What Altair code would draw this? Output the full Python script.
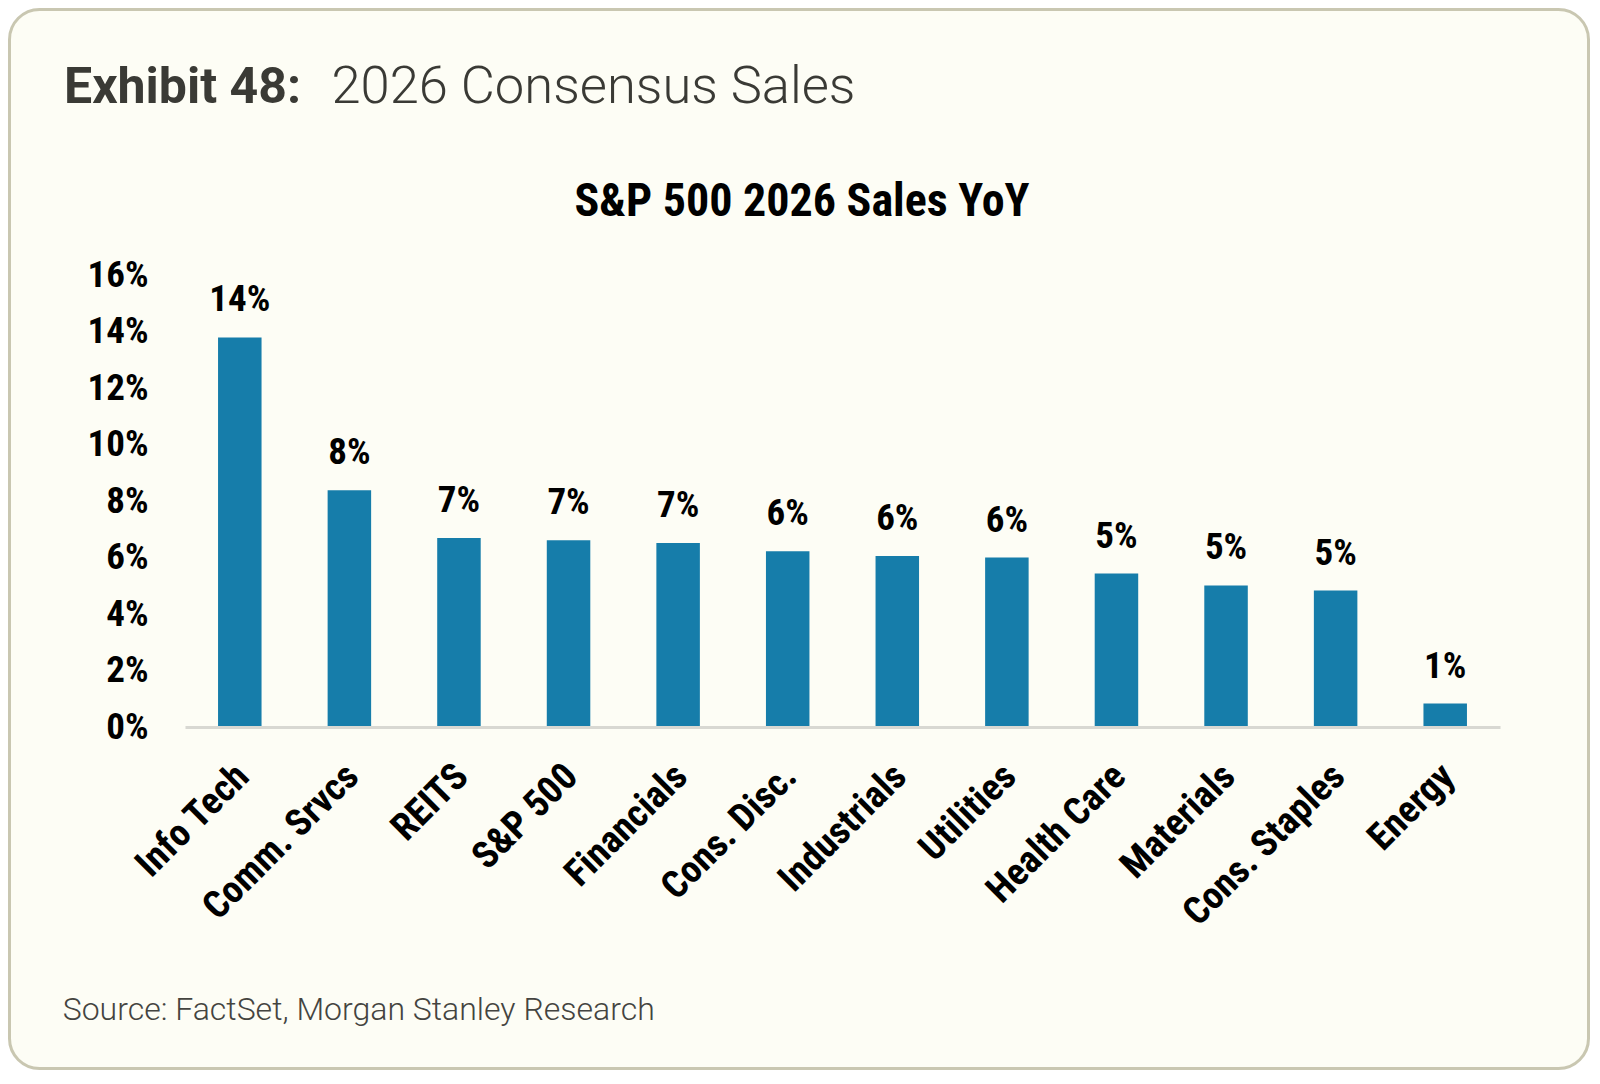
import altair as alt
import pandas as pd

# ---------------- data ----------------
categories = ["Info Tech", "Comm. Srvcs", "REITS", "S&P 500", "Financials",
              "Cons. Disc.", "Industrials", "Utilities", "Health Care",
              "Materials", "Cons. Staples", "Energy"]
sales_yoy = [13.79, 8.38, 6.69, 6.61, 6.51, 6.22, 6.05, 6.00, 5.43, 5.01, 4.83, 0.83]
y_ticks = [0, 2, 4, 6, 8, 10, 12, 14, 16]

exhibit_label = "Exhibit 48:"
exhibit_title = "2026 Consensus Sales"
chart_title = "S&P 500 2026 Sales YoY"
source_text = "Source: FactSet, Morgan Stanley Research"

# ---------------- styles ----------------
COND = "'Liberation Sans Narrow', 'Arial Narrow', 'Roboto Condensed', 'DejaVu Sans Condensed', sans-serif"
ROBOTO = "Roboto, 'Open Sans', sans-serif"
BLUE = "#167daa"
CREAM = "#fdfdf5"
BORDER = "#c9c7b1"
DARK = "#3a3a35"

W, H = 1315, 452
TOTAL_W, TOTAL_H = 1582, 1062
PAD_L, PAD_T = 177, 267
PAD_R = TOTAL_W - PAD_L - W
PAD_B = TOTAL_H - PAD_T - H

df = pd.DataFrame({"category": categories, "value": sales_yoy})
one = pd.DataFrame({"a": [0]})

x_enc = alt.X(
    "category:N", sort=categories,
    scale=alt.Scale(paddingInner=0.603, paddingOuter=0.3015),
    axis=alt.Axis(
        title=None, labelAngle=-45, labelFont=COND, labelFontWeight="bold",
        labelFontSize=38, labelColor="#000000", labelPadding=30, labelLimit=400,
        labelOffset=-10,
        ticks=False, domainColor="#d8d8d2", domainWidth=3, grid=False, zindex=1,
    ),
)
y_enc = alt.Y(
    "value:Q",
    scale=alt.Scale(domain=[0, 16], nice=False, zero=True),
    axis=alt.Axis(
        title=None, values=y_ticks, labelExpr="datum.value + '%'",
        labelFont=COND, labelFontWeight="bold", labelFontSize=37,
        labelColor="#000000", labelPadding=37, ticks=False, domain=False,
        grid=False, zindex=1,
    ),
)

card = alt.Chart(one).mark_rect(
    fill=CREAM, stroke=BORDER, strokeWidth=3, cornerRadius=30
).encode(
    x=alt.value(-PAD_L + 1.5), x2=alt.value(W + PAD_R - 1.5),
    y=alt.value(-PAD_T + 1.5), y2=alt.value(H + PAD_B - 1.5),
)

bars = alt.Chart(df).mark_bar(color=BLUE).encode(x=x_enc, y=y_enc)

labels = alt.Chart(df).transform_calculate(
    label="format(datum.value, '.0f') + '%'"
).mark_text(
    font=COND, fontWeight="bold", fontSize=37, color="#000000",
    baseline="middle", dy=-37,
).encode(x=x_enc, y=y_enc, text="label:N")

t_exhibit = alt.Chart(one).mark_text(
    text=exhibit_label, font=ROBOTO, fontWeight="bold", fontSize=50,
    color=DARK, align="left", baseline="alphabetic",
).encode(x=alt.value(-121), y=alt.value(-171.7))

t_title = alt.Chart(one).mark_text(
    text=exhibit_title, font=ROBOTO, fontWeight=300, fontSize=52.5,
    color=DARK, align="left", baseline="alphabetic",
).encode(x=alt.value(146.5), y=alt.value(-171.7))

t_chart = alt.Chart(one).mark_text(
    text=chart_title, font=COND, fontWeight="bold", fontSize=46,
    color="#000000", align="center", baseline="alphabetic",
).encode(x=alt.value(617), y=alt.value(-58.7))

t_source = alt.Chart(one).mark_text(
    text=source_text, font=ROBOTO, fontWeight=300, fontSize=32,
    color="#444440", align="left", baseline="alphabetic",
).encode(x=alt.value(-122.3), y=alt.value(745))

chart = alt.layer(
    card, bars, labels, t_exhibit, t_title, t_chart, t_source
).properties(
    width=W, height=H,
    autosize=alt.AutoSizeParams(type="none"),
    padding={"left": PAD_L, "top": PAD_T, "right": PAD_R, "bottom": PAD_B},
    background="white",
).configure_view(stroke=None)

chart.save("out.html", embed_options={"renderer": "svg", "actions": False})
